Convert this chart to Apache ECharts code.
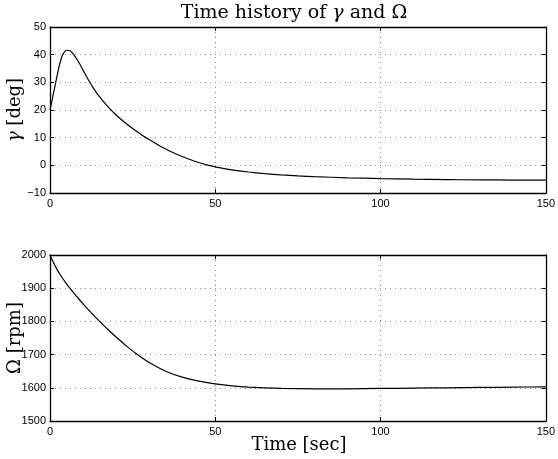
<!DOCTYPE html>
<html><head><meta charset="utf-8">
<script src="https://cdn.jsdelivr.net/npm/echarts@6/dist/echarts.min.js"></script>
<style>html,body{margin:0;padding:0;background:#fff}#c{width:558px;height:459px}</style>
</head><body><div id="c"></div>
<script>
// ---- data ----
const gammaT = [0,0.5,1,1.5,2,2.5,3,3.5,4,4.5,5,5.5,6,6.5,7,7.5,8,9,10,11,12,13,14,15,16,18,20,22,25,28,30,33,36,40,44,48,52,56,60,65,70,75,80,90,100,110,120,130,140,150];
const gammaV = [20,22.8,25.7,28.6,31.6,34.4,36.9,38.9,40.3,41.2,41.6,41.6,41.4,41.0,40.3,39.5,38.6,36.6,34.4,32.2,30.1,28.2,26.4,24.8,23.3,20.6,18.2,16.1,13.3,10.8,9.3,7.2,5.3,3.2,1.4,0.0,-1.0,-1.8,-2.4,-3.0,-3.45,-3.8,-4.1,-4.5,-4.8,-5.0,-5.15,-5.25,-5.32,-5.38];
const omegaT = [0,1,2,3,4,5,6,8,10,12,15,18,20,23,26,30,35,40,45,50,55,60,70,80,90,100,110,120,130,140,150];
const omegaV = [2000,1978,1959,1942,1927,1913,1900,1876,1853,1831,1800,1771,1753,1727,1703,1676,1650,1632,1620,1612,1606,1602,1598,1597,1597,1598,1599,1600,1601,1602,1603];
const xTicks = [0,50,100,150];
const gammaTicks = [-10,0,10,20,30,40,50];
const omegaTicks = [1500,1600,1700,1800,1900,2000];
const omegaLabel = '\u03a9 [rpm]';
const xLabel = 'Time [sec]';

const pair = (t, v) => t.map((x, i) => [x, v[i]]);
const labelFont = {color:'#000', fontFamily:'Liberation Sans, Arial, sans-serif', fontSize:11};
const minus = v => String(v).replace('-', '\u2212');

function xAx(gi, pos, showLabel){
  return {type:'value', gridIndex:gi, position:pos, min:xTicks[0], max:xTicks[xTicks.length-1], interval:xTicks[1]-xTicks[0],
    axisLine:{show:true, onZero:false, lineStyle:{color:'#000', width:1.3}},
    axisTick:{show:true, inside:true, length:4, lineStyle:{color:'#000'}},
    axisLabel:Object.assign({show:showLabel, margin:5, formatter:minus}, labelFont),
    splitLine:{show:showLabel, lineStyle:{color:'#888', type:[1,4], width:1}}};
}
function yAx(gi, pos, ticks, showLabel){
  return {type:'value', gridIndex:gi, position:pos, min:ticks[0], max:ticks[ticks.length-1], interval:ticks[1]-ticks[0],
    axisLine:{show:true, onZero:false, lineStyle:{color:'#000', width:1.3}},
    axisTick:{show:true, inside:true, length:4, lineStyle:{color:'#000'}},
    axisLabel:Object.assign({show:showLabel, margin:4, formatter:minus}, labelFont),
    splitLine:{show:showLabel, lineStyle:{color:'#888', type:[1,4], width:1}}};
}

const chart = echarts.init(document.getElementById('c'), null, {renderer:'canvas'});
const serif = 'DejaVu Serif, Liberation Serif, serif';
const f = '18px ' + serif;
chart.setOption({
  animation:false,
  backgroundColor:'#fff',
  grid:[{left:50, top:27, width:500, height:166}, {left:50, top:255, width:500, height:166}],
  xAxis:[xAx(0,'bottom',true), xAx(0,'top',false), xAx(1,'bottom',true), xAx(1,'top',false)],
  yAxis:[yAx(0,'left',gammaTicks,true), yAx(0,'right',gammaTicks,false), yAx(1,'left',omegaTicks,true), yAx(1,'right',omegaTicks,false)],
  series:[
    {type:'line', xAxisIndex:0, yAxisIndex:0, data:pair(gammaT,gammaV), showSymbol:false, smooth:0.2, lineStyle:{color:'#000', width:1.2}},
    {type:'line', xAxisIndex:2, yAxisIndex:2, data:pair(omegaT,omegaV), showSymbol:false, smooth:0.2, lineStyle:{color:'#000', width:1.2}}
  ],
  graphic:[
    {type:'text', x:294, y:13, style:{
      text:'Time history of {i|\u03b3} and \u03a9', font:'19px ' + serif, fill:'#000', textAlign:'center', textVerticalAlign:'middle',
      rich:{i:{font:'italic 19px ' + serif, fill:'#000'}}}},
    {type:'text', x:15, y:110, rotation:Math.PI/2, style:{text:'{i|\u03b3} [deg]', font:f, fill:'#000', textAlign:'center', textVerticalAlign:'middle',
      rich:{i:{font:'italic 18px ' + serif, fill:'#000'}}}},
    {type:'text', x:15, y:338, rotation:Math.PI/2, style:{text:omegaLabel, font:f, fill:'#000', textAlign:'center', textVerticalAlign:'middle'}},
    {type:'text', x:299, y:445, style:{text:xLabel, font:f, fill:'#000', textAlign:'center', textVerticalAlign:'middle'}}
  ]
});
</script></body></html>
